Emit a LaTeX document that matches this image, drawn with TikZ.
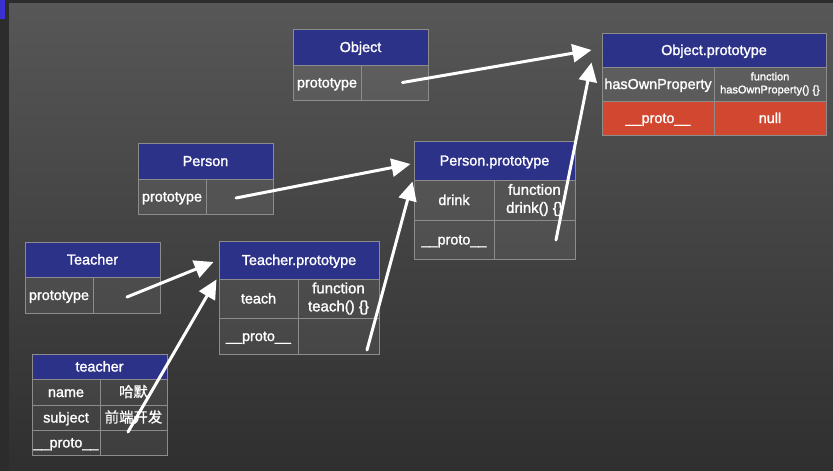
\documentclass[tikz,border=0pt]{standalone}
\usepackage{fontspec}
\setmainfont{Liberation Sans}[FakeBold=1.5]
\newfontfamily\cjk{Noto Sans CJK SC}[FakeBold=0.8]
\usetikzlibrary{arrows.meta,calc}
\definecolor{bgtop}{HTML}{575757}
\definecolor{bgbot}{HTML}{2F2F2F}
\definecolor{edgedark}{HTML}{2C2C2C}
\definecolor{hdrblue}{HTML}{2D3289}
\definecolor{rowred}{HTML}{D2472F}
\definecolor{bordergray}{HTML}{8C8C8C}
\definecolor{cornerblue}{HTML}{3A2FD0}
\tikzset{
  cellbox/.style={draw=bordergray, line width=1pt, fill=white, fill opacity=0.07,
    text opacity=1, draw opacity=1, text=white, inner sep=0pt, align=center,
    text height=12pt, text depth=2pt,
    font=\fontsize{14.4}{16}\selectfont},
  hdrbox/.style={cellbox, fill=hdrblue, fill opacity=1},
  redbox/.style={cellbox, fill=rowred, fill opacity=1},
  twoline/.style={text height=, text depth=},
  fnbig/.style={twoline, font=\fontsize{15}{18}\selectfont},
  fnsmall/.style={twoline, font=\fontsize{11}{13}\selectfont},
  arr/.style={draw=white, line width=3pt, line cap=round,
    -{Triangle[length=19pt,width=18pt]}}
}
% name, x1, y1, x2, y2, style, text
\newcommand\tcell[7]{%
  \node[#6, minimum width={(#4-#2)*1pt}, minimum height={(#5-#3)*1pt}]
    (#1) at ({(#2+#4)/2},{(#3+#5)/2}) {#7};}
\begin{document}
\begin{tikzpicture}[x=1pt,y=-1pt]
\useasboundingbox (0,0) rectangle (833,471);
% background
\fill[edgedark] (0,0) rectangle (833,471);
\fill[top color=bgtop, bottom color=bgbot] (9,3) rectangle (833,471);
\fill[cornerblue] (0,0) rectangle (5,19);

% Object
\tcell{oh}{293}{29}{428}{65}{hdrbox}{Object}
\tcell{ok}{293}{65}{361}{100}{cellbox}{prototype}
\tcell{ov}{361}{65}{428}{100}{cellbox}{}

% Object.prototype
\tcell{oph}{602}{33}{826}{67}{hdrbox}{Object.prototype}
\tcell{opk1}{602}{67}{714}{101}{cellbox}{hasOwnProperty}
\tcell{opv1}{714}{67}{826}{101}{cellbox,fnsmall}{function\\hasOwnProperty() \{\}}
\tcell{opk2}{602}{101}{714}{135}{redbox}{\_\_proto\_\_}
\tcell{opv2}{714}{101}{826}{135}{redbox}{null}

% Person
\tcell{ph}{138}{143}{273}{179}{hdrbox}{Person}
\tcell{pk}{138}{179}{206}{214}{cellbox}{prototype}
\tcell{pv}{206}{179}{273}{214}{cellbox}{}

% Person.prototype
\tcell{pph}{414}{141}{575}{180}{hdrbox}{Person.prototype}
\tcell{ppk1}{414}{180}{494}{220}{cellbox}{drink}
\tcell{ppv1}{494}{180}{575}{220}{cellbox,fnbig}{function\\drink() \{\}}
\tcell{ppk2}{414}{220}{494}{259}{cellbox}{\_\_proto\_\_}
\tcell{ppv2}{494}{220}{575}{259}{cellbox}{}

% Teacher
\tcell{th}{25}{242}{160}{277}{hdrbox}{Teacher}
\tcell{tk}{25}{277}{93}{313}{cellbox}{prototype}
\tcell{tv}{93}{277}{160}{313}{cellbox}{}

% Teacher.prototype
\tcell{tph}{219}{241}{379}{279}{hdrbox}{Teacher.prototype}
\tcell{tpk1}{219}{279}{298}{318}{cellbox}{teach}
\tcell{tpv1}{298}{279}{379}{318}{cellbox,fnbig}{function\\teach() \{\}}
\tcell{tpk2}{219}{318}{298}{354}{cellbox}{\_\_proto\_\_}
\tcell{tpv2}{298}{318}{379}{354}{cellbox}{}

% teacher instance
\tcell{ih}{32}{354}{167}{379}{hdrbox}{teacher}
\tcell{ik1}{32}{379}{100}{405}{cellbox}{name}
\tcell{iv1}{100}{379}{167}{405}{cellbox}{{\cjk 哈默}}
\tcell{ik2}{32}{405}{100}{430}{cellbox}{subject}
\tcell{iv2}{100}{405}{167}{430}{cellbox}{{\cjk 前端开发}}
\tcell{ik3}{32}{430}{100}{455}{cellbox}{\_\_proto\_\_}
\tcell{iv3}{100}{430}{167}{455}{cellbox}{}

% arrows
\draw[arr] ($(ov.center)+(8,0)$) -- ($(oph.west)+(-10,0)$);
\draw[arr] ($(ppv2.center)+(21.5,0.5)$) -- ($(oph.south west)+(-10,-5)$);
\draw[arr] ($(pv.center)+(-3.5,1.5)$) -- ($(pph.west)+(-3,3.5)$);
\draw[arr] ($(tpv2.center)+(28.5,14)$) -- ($(pph.south west)+(-1,1)$);
\draw[arr] ($(tv.center)+(0.5,2)$) -- ($(tph.west)+(-5,2)$);
\draw[arr] ($(iv3.center)+(-5.5,-10.5)$) -- ($(tph.south west)+(-2,0)$);
\end{tikzpicture}
\end{document}
